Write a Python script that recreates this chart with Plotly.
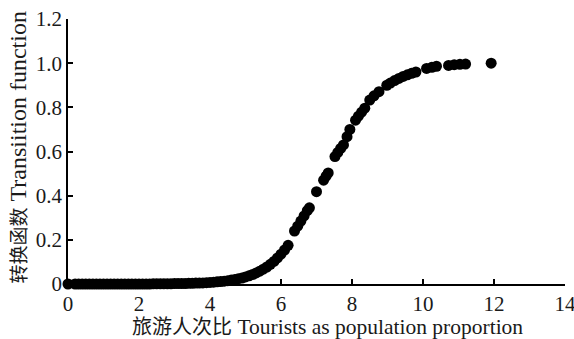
import plotly.graph_objects as go

# Tourists as population proportion (x) and transition function value (y)
ratio = [
    0.0, 0.2, 0.3, 0.4, 0.5, 0.6, 0.7, 0.8, 0.9, 1.0,
    1.1, 1.2, 1.3, 1.4, 1.5, 1.6, 1.7, 1.8, 1.9, 2.0,
    2.1, 2.2, 2.3, 2.4, 2.5, 2.6, 2.7, 2.8, 2.9, 3.0,
    3.1, 3.2, 3.3, 3.4, 3.5, 3.6, 3.7, 3.8, 3.9, 4.0,
    4.1, 4.2, 4.3, 4.4, 4.5, 4.6, 4.7, 4.8, 4.9, 5.0,
    5.1, 5.2, 5.3, 5.4, 5.5, 5.6, 5.7, 5.8, 5.9, 6.0,
    6.1, 6.2,
    6.38, 6.47, 6.56, 6.65, 6.74, 6.80,
    7.00,
    7.20, 7.27, 7.33,
    7.52, 7.60, 7.68, 7.76,
    7.86, 7.94,
    8.10, 8.18, 8.27, 8.36,
    8.50, 8.62, 8.76,
    8.98, 9.08, 9.20, 9.32, 9.44, 9.56, 9.68, 9.80,
    10.10, 10.25, 10.38,
    10.72, 10.88, 11.04, 11.20,
    11.92,
]
transition = [
    0.000, 0.000, 0.000, 0.000, 0.000, 0.000, 0.000, 0.000, 0.000, 0.000,
    0.000, 0.000, 0.000, 0.000, 0.000, 0.000, 0.000, 0.000, 0.000, 0.000,
    0.000, 0.000, 0.000, 0.001, 0.001, 0.001, 0.001, 0.001, 0.001, 0.002,
    0.002, 0.002, 0.002, 0.003, 0.003, 0.004, 0.004, 0.005, 0.006, 0.007,
    0.008, 0.010, 0.011, 0.013, 0.015, 0.018, 0.020, 0.024, 0.027, 0.032,
    0.037, 0.043, 0.050, 0.058, 0.067, 0.077, 0.089, 0.102, 0.118, 0.135,
    0.154, 0.175,
    0.240, 0.262, 0.285, 0.308, 0.332, 0.345,
    0.418,
    0.470, 0.488, 0.503,
    0.577, 0.596, 0.614, 0.630,
    0.667, 0.700,
    0.742, 0.760, 0.778, 0.796,
    0.833, 0.852, 0.871,
    0.900, 0.910, 0.921, 0.931, 0.940, 0.947, 0.954, 0.960,
    0.976, 0.981, 0.986,
    0.990, 0.993, 0.995, 0.996,
    1.000,
]

x_ticks = [0, 2, 4, 6, 8, 10, 12, 14]
y_ticks = [0, 0.2, 0.4, 0.6, 0.8, 1.0, 1.2]
y_tick_text = ["0", "0.2", "0.4", "0.6", "0.8", "1.0", "1.2"]

x_title_cn = "旅游人次比"
x_title_en = "Tourists as population proportion"
y_title_cn = "转换函数"
y_title_en = "Transiition function"

font_family = "Liberation Serif, Times New Roman, Noto Sans CJK SC, serif"
text_color = "#1a1a1a"

fig = go.Figure(
    go.Scatter(
        x=ratio,
        y=transition,
        mode="markers",
        marker=dict(color="black", size=11, line=dict(width=0)),
        cliponaxis=False,
        showlegend=False,
    )
)

axis_common = dict(
    showline=True,
    linecolor="black",
    linewidth=1.5,
    mirror=False,
    showgrid=False,
    zeroline=False,
    ticks="inside",
    ticklen=5,
    tickwidth=1.5,
    tickcolor="black",
    automargin=False,
    ticklabeloverflow="allow",
    tickfont=dict(family=font_family, size=21, color=text_color),
)

fig.update_layout(
    width=574,
    height=339,
    margin=dict(l=68, r=9, t=19, b=55),
    paper_bgcolor="white",
    plot_bgcolor="white",
    xaxis=dict(
        range=[0, 14],
        tickvals=x_ticks,
        ticktext=[str(v) for v in x_ticks],
        **axis_common,
    ),
    yaxis=dict(
        range=[0, 1.2],
        tickvals=y_ticks,
        ticktext=y_tick_text,
        **axis_common,
    ),
    annotations=[
        dict(
            text=f'<span style="font-size:20px">{x_title_cn}</span> {x_title_en}',
            xref="paper", yref="paper",
            x=0.522, y=-0.162,
            xanchor="center", yanchor="middle",
            showarrow=False,
            font=dict(family=font_family, size=21.5, color=text_color),
        ),
        dict(
            text=f'<span style="font-size:19px">{y_title_cn}</span> {y_title_en}',
            xref="paper", yref="paper",
            x=-0.1006, y=0.515,
            xanchor="center", yanchor="middle",
            textangle=-90,
            showarrow=False,
            font=dict(family=font_family, size=24, color=text_color),
        ),
    ],
)

fig.write_html("out.html")
